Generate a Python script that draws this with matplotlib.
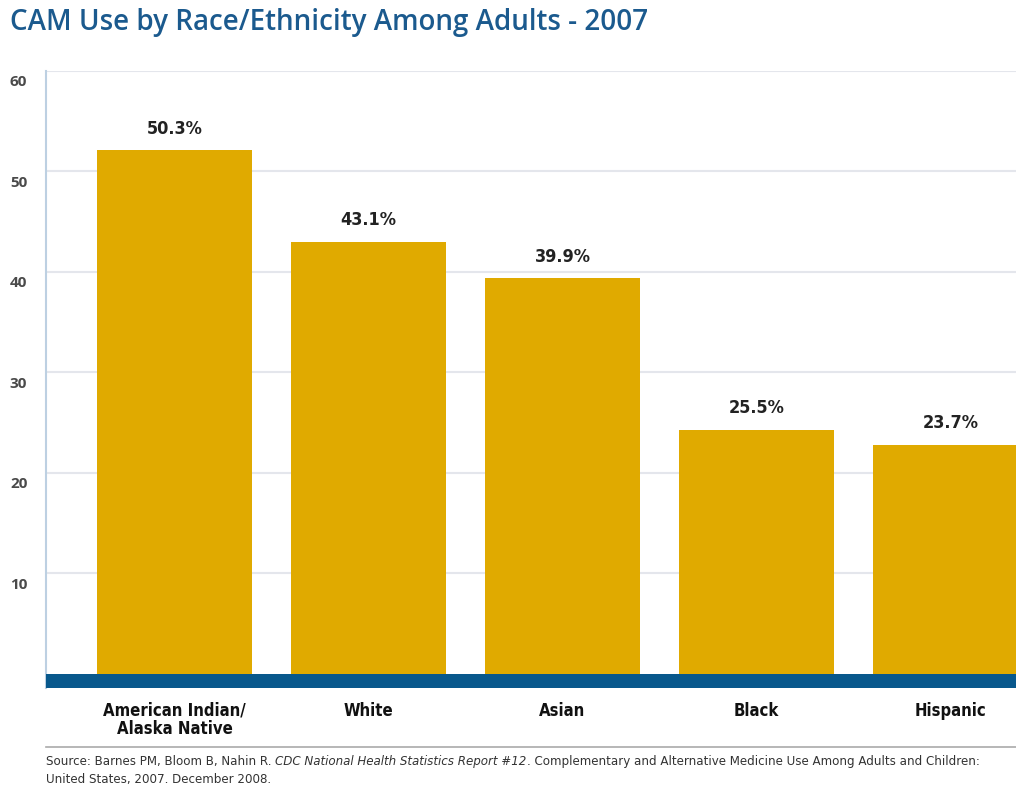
import matplotlib
matplotlib.use("Agg")
import matplotlib.pyplot as plt
import matplotlib.transforms as mtransforms
import numpy as np

# values (bar heights as drawn) and the printed labels
categories = ["American Indian/\nAlaska Native", "White", "Asian", "Black", "Hispanic"]
bar_heights = [52.1, 43.0, 39.4, 24.3, 22.8]
value_labels = ["50.3%", "43.1%", "39.9%", "25.5%", "23.7%"]
y_ticks = [10, 20, 30, 40, 50, 60]

title = "CAM Use by Race/Ethnicity Among Adults - 2007"
source_parts = [
    ("Source: Barnes PM, Bloom B, Nahin R. ", "normal"),
    ("CDC National Health Statistics Report #12", "italic"),
    (". Complementary and Alternative Medicine Use Among Adults and Children:", "normal"),
]
source_line2 = "United States, 2007. December 2008."

GOLD = "#E0AA00"
NAVY = "#08588C"
TITLE_BLUE = "#1B5A8E"

fig = plt.figure(figsize=(10.16, 7.88), dpi=100)
ax = fig.add_axes([0.0453, 0.1269, 0.9547, 0.783])

x = np.arange(len(categories))
ax.bar(x, bar_heights, width=0.8, color=GOLD, zorder=3)
ax.axhspan(-1.4, 0, color=NAVY, zorder=4, lw=0)

for xi, h, lab in zip(x, bar_heights, value_labels):
    ax.annotate(lab, (xi, h), xytext=(0, 9), textcoords="offset points",
                ha="center", va="bottom", fontsize=13, fontweight="bold",
                family="DejaVu Sans", fontstretch="condensed", color="#222222")

ax.set_xlim(-0.662, 4.338)
ax.set_ylim(-1.4, 60)
ax.set_yticks(y_ticks)
ax.set_yticklabels([str(t) for t in y_ticks], fontsize=11, color="#4A4A4A",
                   fontweight="bold", family=["Open Sans", "DejaVu Sans"])
ax.tick_params(axis="y", length=0, pad=26)
# labels sit a little below their gridlines, left-aligned near the edge
shift = mtransforms.ScaledTranslation(0, -10 / 100, fig.dpi_scale_trans)
for lab in ax.get_yticklabels():
    lab.set_horizontalalignment("left")
    lab.set_transform(lab.get_transform() + shift)
ax.set_xticks(x)
ax.set_xticklabels(categories, fontsize=12, fontweight="bold", family="DejaVu Sans",
                   fontstretch="condensed", color="#111111", linespacing=1.0)
ax.tick_params(axis="x", length=0, pad=10)

ax.grid(axis="y", color="#E4E6EC", linewidth=1.5, zorder=0)
for side in ["top", "right", "bottom"]:
    ax.spines[side].set_visible(False)
ax.spines["left"].set_color("#BDD0E2")
ax.spines["left"].set_linewidth(1.5)

fig.text(0.0098, 0.972, title, fontsize=20, color=TITLE_BLUE,
         family=["Open Sans", "DejaVu Sans"], fontweight="semibold", va="center")

# separator line above source
sep_y = 1 - 747 / 788
fig.add_artist(plt.Line2D([0.0453, 1.0], [sep_y, sep_y], transform=fig.transFigure,
                          color="#AAAAAA", linewidth=1.2))

# source text with italic segment placed piece by piece
fig.canvas.draw()
renderer = fig.canvas.get_renderer()
xpos = 46 / 1016
y1 = 1 - 762 / 788
for txt, style in source_parts:
    t = fig.text(xpos, y1, txt, fontsize=8.6, style=style, color="#333333",
                 family="DejaVu Sans", va="center")
    bb = t.get_window_extent(renderer)
    xpos += bb.width / fig.bbox.width
fig.text(46 / 1016, 1 - 780 / 788, source_line2, fontsize=8.6, color="#333333",
         family="DejaVu Sans", va="center")

fig.savefig("out.png", dpi=100)
plt.close(fig)
